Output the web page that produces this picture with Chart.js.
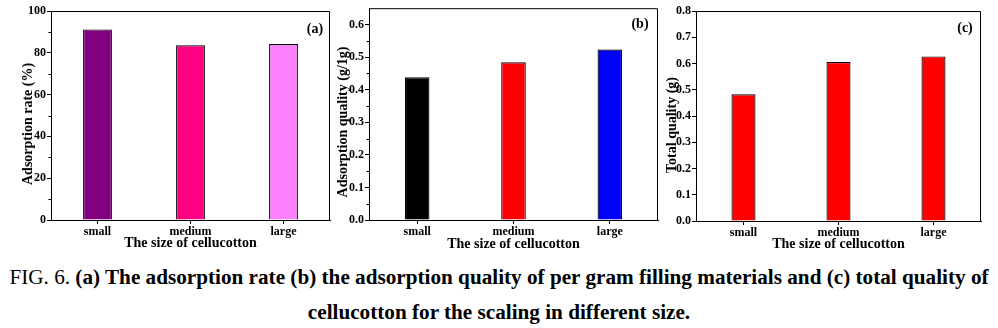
<!DOCTYPE html>
<html lang="en">
<head>
<meta charset="UTF-8">
<title>FIG. 6</title>
<script src="https://cdn.jsdelivr.net/npm/chart.js"></script>
<style>
    body { margin: 0; background: #fff; }
    .fig { position: relative; width: 998px; height: 328px; overflow: hidden; font-family: "Liberation Serif", serif; color: #000; }
    .fig canvas { position: absolute; top: 0; }
    .ytitle { position: absolute; font-weight: bold; font-size: 14px; white-space: nowrap; transform: translate(-50%, -50%) rotate(-90deg); }
    .tag { position: absolute; font-weight: bold; font-size: 14px; transform: translate(-50%, -50%); }
    .caption { position: absolute; left: 0; top: 260px; width: 998px; text-align: center; font-size: 21.2px; line-height: 35px; white-space: nowrap; }
</style>
</head>
<body>
<div class="fig">
    <canvas id="chartA" width="335" height="250" style="left:0"></canvas>
    <canvas id="chartB" width="333" height="250" style="left:330px"></canvas>
    <canvas id="chartC" width="338" height="250" style="left:660px"></canvas>

    <div class="ytitle" style="left:28px; top:124px">Adsorption rate (%)</div>
    <div class="ytitle" style="left:343px; top:122px">Adsorption quality (g/1g)</div>
    <div class="ytitle" style="left:672px; top:125px">Total quality (g)</div>

    <div class="tag" style="left:315px; top:29px">(a)</div>
    <div class="tag" style="left:640px; top:24px">(b)</div>
    <div class="tag" style="left:965px; top:28px">(c)</div>

    <div class="caption">FIG. 6. <b>(a) The adsorption rate (b) the adsorption quality of per gram filling materials and (c) total quality of<br>cellucotton for the scaling in different size.</b></div>
</div>

<script>
    // cellucotton sizes
    var sizes = ['small', 'medium', 'large'];

    // (a) adsorption rate, %
    var adsorptionRate = [91.2, 83.6, 84.2];
    // (b) adsorption quality per gram of filling, g/1g
    var adsorptionPerGram = [0.438, 0.484, 0.523];
    // (c) total quality, g
    var totalQuality = [0.483, 0.606, 0.627];

    var coloursA = ['#800080', '#ff0080', '#ff80ff'];
    var coloursB = ['#000000', '#ff0000', '#0000ff'];
    var coloursC = ['#ff0000', '#ff0000', '#ff0000'];

    Chart.defaults.font.family = "'Liberation Serif', serif";
    Chart.defaults.font.weight = 'bold';
    Chart.defaults.color = '#000';

    // closes the box on top/right and adds short minor ticks on the y axis
    var frame = {
        id: 'frame',
        afterDraw: function (chart, args, opts) {
            var a = chart.chartArea;
            var ctx = chart.ctx;
            ctx.save();
            ctx.strokeStyle = '#000';
            ctx.lineWidth = 1;
            ctx.beginPath();
            ctx.moveTo(a.left, a.top + 0.5);
            ctx.lineTo(a.right - 0.5, a.top + 0.5);
            ctx.lineTo(a.right - 0.5, a.bottom);
            ctx.stroke();
            if (opts.minor) {
                var y = chart.scales.y;
                ctx.beginPath();
                for (var i = 0; i < y.ticks.length - 1; i++) {
                    var mid = (y.ticks[i].value + y.ticks[i + 1].value) / 2;
                    var py = Math.round(y.getPixelForValue(mid)) + 0.5;
                    ctx.moveTo(a.left - 2.5, py);
                    ctx.lineTo(a.left, py);
                }
                ctx.stroke();
            }
            ctx.restore();
        }
    };

    function barChart(id, values, colours, opt) {
        new Chart(document.getElementById(id), {
            type: 'bar',
            data: {
                labels: sizes,
                datasets: [{
                    data: values,
                    backgroundColor: colours,
                    borderColor: '#000',
                    borderWidth: 1.2,
                    categoryPercentage: 1,
                    barPercentage: opt.bar
                }]
            },
            options: {
                responsive: false,
                animation: false,
                devicePixelRatio: 1,
                layout: { padding: { left: 0, top: opt.top, right: opt.right, bottom: 0 } },
                plugins: {
                    legend: { display: false },
                    tooltip: { enabled: false },
                    frame: { minor: opt.minor }
                },
                scales: {
                    x: {
                        afterFit: function (s) { s.height = opt.xh; },
                        grid: { offset: false, drawOnChartArea: false, color: '#000', tickLength: 4 },
                        border: { color: '#000', width: 1 },
                        ticks: { font: { size: 12 }, padding: 1 }
                    },
                    y: {
                        min: 0,
                        max: opt.max,
                        afterFit: function (s) { s.width = opt.yw; },
                        grid: { drawOnChartArea: false, color: '#000', tickLength: 4 },
                        border: { color: '#000', width: 1 },
                        ticks: {
                            stepSize: opt.step,
                            includeBounds: false,
                            padding: 1,
                            font: { size: 12 },
                            callback: function (v) { return v.toFixed(opt.dec); }
                        },
                        title: { display: false }
                    }
                }
            },
            plugins: [frame, {
                id: 'xTitle',
                afterDraw: function (chart) {
                    var a = chart.chartArea, ctx = chart.ctx;
                    ctx.save();
                    ctx.font = "bold 14px 'Liberation Serif'";
                    ctx.fillStyle = '#000';
                    ctx.textAlign = 'center';
                    ctx.textBaseline = 'alphabetic';
                    ctx.fillText('The size of cellucotton', (a.left + a.right) / 2, opt.titleY);
                    ctx.restore();
                }
            }]
        });
    }

    barChart('chartA', adsorptionRate, coloursA,
        { max: 100, step: 20, dec: 0, bar: 0.31, top: 11, right: 5, yw: 51, xh: 30, minor: true, titleY: 247 });
    barChart('chartB', adsorptionPerGram, coloursB,
        { max: 0.65, step: 0.1, dec: 1, bar: 0.255, top: 6, right: 5, yw: 39, xh: 30, minor: true, titleY: 248 });
    barChart('chartC', totalQuality, coloursC,
        { max: 0.8, step: 0.1, dec: 1, bar: 0.253, top: 11, right: 17, yw: 36, xh: 29, minor: false, titleY: 248 });
</script>
</body>
</html>
